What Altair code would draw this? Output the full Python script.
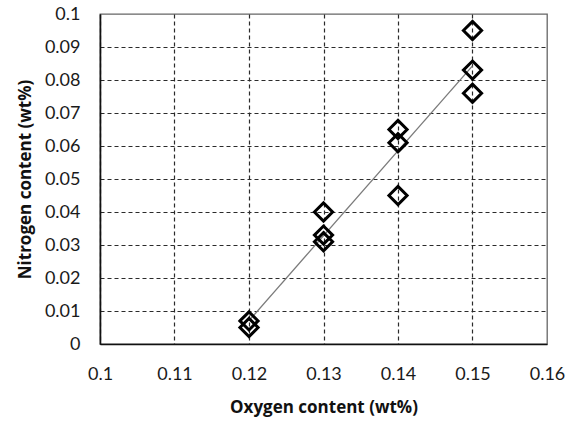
import altair as alt
import pandas as pd

oxygen = [0.12, 0.12, 0.13, 0.13, 0.13, 0.14, 0.14, 0.14, 0.15, 0.15, 0.15]
nitrogen = [0.007, 0.005, 0.040, 0.033, 0.031, 0.065, 0.061, 0.045, 0.095, 0.083, 0.076]
x_ticks = [0.1, 0.11, 0.12, 0.13, 0.14, 0.15, 0.16]
y_ticks = [0, 0.01, 0.02, 0.03, 0.04, 0.05, 0.06, 0.07, 0.08, 0.09, 0.1]

df = pd.DataFrame({"oxygen": oxygen, "nitrogen": nitrogen})

FONT = "Lato"
TFONT = "Open Sans"
grid_dash = [4, 3]

x_enc = alt.X(
    "oxygen:Q",
    scale=alt.Scale(domain=[0.1, 0.16], nice=False, zero=False),
    axis=alt.Axis(
        values=x_ticks, format="~g", title="Oxygen content (wt%)",
        grid=True, gridDash=grid_dash,
        gridColor={"condition": {"test": "datum.value > 0.159", "value": "transparent"}, "value": "#2b2b2b"},
        gridWidth=1.2, labelOverlap=False, labelFlush=False,
        ticks=False, labelPadding=21, titlePadding=16,
        domainColor="#111111", domainWidth=1.6,
        labelFont=FONT, labelFontSize=18, labelColor="#1a1a1a",
        titleFont=TFONT, titleFontSize=17, titleFontWeight="bold", titleColor="#111111",
    ),
)
y_enc = alt.Y(
    "nitrogen:Q",
    scale=alt.Scale(domain=[0, 0.1], nice=False, zero=True),
    axis=alt.Axis(
        values=y_ticks, format="~g", title="Nitrogen content (wt%)",
        grid=True, gridDash=grid_dash,
        gridColor={"condition": {"test": "datum.value > 0.099", "value": "transparent"}, "value": "#2b2b2b"},
        gridWidth=1.2, labelOverlap=False, labelFlush=False,
        ticks=False, labelPadding=20, titlePadding=10,
        domainColor="#111111", domainWidth=1.6,
        labelFont=FONT, labelFontSize=18, labelColor="#1a1a1a",
        titleFont=TFONT, titleFontSize=17, titleFontWeight="bold", titleColor="#111111",
    ),
)

base = alt.Chart(df).encode(x=x_enc, y=y_enc)

points = base.mark_point(
    shape="diamond", filled=False, size=330, stroke="black", strokeWidth=3, opacity=1
)

trend = base.transform_regression("oxygen", "nitrogen").mark_line(
    color="#7a7a7a", strokeWidth=1.3
)

chart = alt.layer(trend, points).properties(
    width=447, height=330,
    autosize=alt.AutoSizeParams(type="none"),
    padding={"left": 100, "top": 14, "right": 21, "bottom": 79},
    background="white",
).configure_view(
    stroke="#666666", strokeWidth=1.3
)

chart.save("out.html", embed_options={"renderer": "svg", "actions": False})
